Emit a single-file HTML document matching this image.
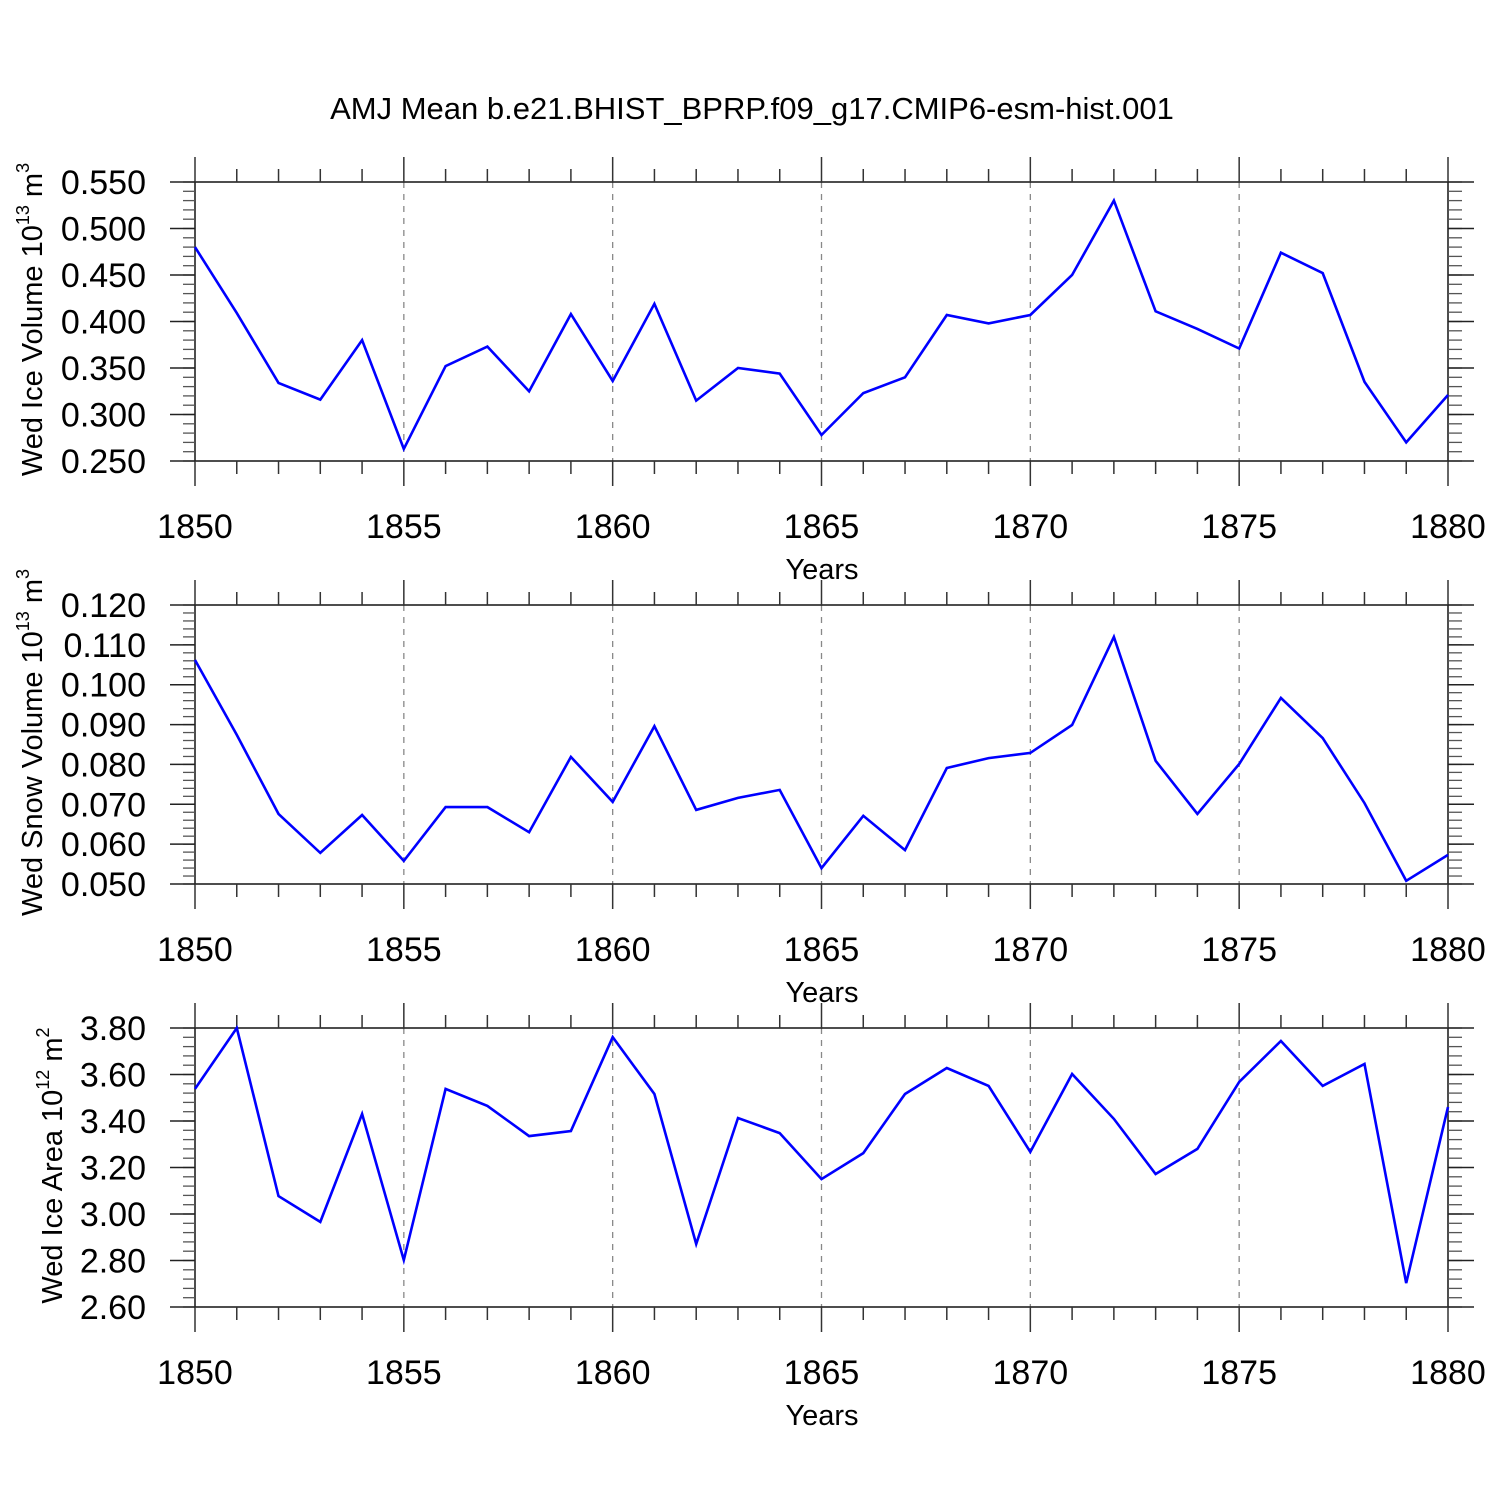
<!DOCTYPE html>
<html><head><meta charset="utf-8"><style>
html,body{margin:0;padding:0;background:#fff;}
svg{display:block;font-family:"Liberation Sans",Arial,sans-serif;}
</style></head><body>
<svg id="chart" width="1500" height="1500" viewBox="0 0 1500 1500" xmlns="http://www.w3.org/2000/svg">
<text x="752" y="119" font-size="31" text-anchor="middle">AMJ Mean b.e21.BHIST_BPRP.f09_g17.CMIP6-esm-hist.001</text>
</svg>
<script>
const years = [];
for (let y = 1850; y <= 1880; y++) years.push(y);
const xTicks = [1850, 1855, 1860, 1865, 1870, 1875, 1880];
const iceVolume = [0.480,0.409,0.334,0.316,0.380,0.263,0.352,0.373,0.325,0.408,0.336,0.419,0.315,0.350,0.344,0.278,0.323,0.340,0.407,0.398,0.407,0.450,0.530,0.411,0.392,0.371,0.474,0.452,0.335,0.270,0.321];
const snowVolume = [0.1062,0.0874,0.0676,0.0578,0.0673,0.0558,0.0693,0.0693,0.0630,0.0819,0.0706,0.0896,0.0686,0.0716,0.0736,0.0540,0.0671,0.0585,0.0791,0.0816,0.0829,0.0899,0.1120,0.0809,0.0676,0.0801,0.0967,0.0866,0.0703,0.0508,0.0573];
const iceArea = [3.538,3.80,3.077,2.966,3.430,2.802,3.538,3.465,3.335,3.357,3.761,3.516,2.871,3.413,3.348,3.150,3.262,3.516,3.628,3.551,3.267,3.602,3.409,3.172,3.280,3.568,3.744,3.551,3.645,2.703,3.460];
const iceVolTicks = ["0.550","0.500","0.450","0.400","0.350","0.300","0.250"];
const snowVolTicks = ["0.120","0.110","0.100","0.090","0.080","0.070","0.060","0.050"];
const iceAreaTicks = ["3.80","3.60","3.40","3.20","3.00","2.80","2.60"];

const NS = "http://www.w3.org/2000/svg";
const svg = document.getElementById("chart");
const X0 = 195, X1 = 1448;
function xs(v){ return X0 + (v - 1850) / 30 * (X1 - X0); }
function el(tag, attrs, parent){
  const e = document.createElementNS(NS, tag);
  for (const k in attrs) e.setAttribute(k, attrs[k]);
  (parent || svg).appendChild(e);
  return e;
}

const panels = [
  {name:"ice-volume", top:182, data:iceVolume, ticks:iceVolTicks, vmin:0.25, vmax:0.55, minorStep:0.01, title:["Wed Ice Volume 10","13"," m","3"], tx:32},
  {name:"snow-volume", top:605, data:snowVolume, ticks:snowVolTicks, vmin:0.05, vmax:0.12, minorStep:0.002, title:["Wed Snow Volume 10","13"," m","3"], tx:32},
  {name:"ice-area", top:1028, data:iceArea, ticks:iceAreaTicks, vmin:2.6, vmax:3.8, minorStep:0.04, title:["Wed Ice Area 10","12"," m","2"], tx:52}
];
const H = 279;

panels.forEach(p => {
  const g = el("g", {});
  
  
  const top = p.top, bot = top + H;
  function ys(v){ return bot - (v - p.vmin) / (p.vmax - p.vmin) * H; }
  xTicks.slice(1, -1).forEach(t => {
    const l = el("line", {x1:xs(t), x2:xs(t), y1:top, y2:bot, stroke:"#888", "stroke-width":1.3, "stroke-dasharray":"6,6"}, g);
    
    
  });
  const fr = el("rect", {x:X0, y:top, width:X1-X0, height:H, fill:"none", stroke:"#222", "stroke-width":1.6}, g);
  
  
  years.forEach(yr => {
    const major = xTicks.includes(yr);
    const len = major ? 25 : 13;
    const x = xs(yr);
    el("line", {x1:x, x2:x, y1:top, y2:top-len, stroke:"#333", "stroke-width":1.5}, g);
    el("line", {x1:x, x2:x, y1:bot, y2:bot+len, stroke:"#333", "stroke-width":1.5}, g);
  });
  xTicks.forEach(t => {
    const tl = el("text", {x:xs(t), y:bot+77, "font-size":34, "text-anchor":"middle"}, g);
    tl.textContent = t;
    
    
  });
  const nMinor = Math.round((p.vmax - p.vmin) / p.minorStep);
  for (let i = 0; i <= nMinor; i++) {
    const y = ys(p.vmin + i * p.minorStep);
    el("line", {x1:X0, x2:X0-12, y1:y, y2:y, stroke:"#555", "stroke-width":1.3}, g);
    el("line", {x1:X1, x2:X1+14, y1:y, y2:y, stroke:"#555", "stroke-width":1.3}, g);
  }
  p.ticks.forEach(t => {
    const y = ys(parseFloat(t));
    el("line", {x1:X0, x2:X0-25, y1:y, y2:y, stroke:"#222", "stroke-width":1.5}, g);
    el("line", {x1:X1, x2:X1+26, y1:y, y2:y, stroke:"#222", "stroke-width":1.5}, g);
    const tl = el("text", {x:146, y:y+12, "font-size":34, "text-anchor":"end"}, g);
    tl.textContent = t;
    
    
  });
  const xt = el("text", {x:822, y:bot+118, "font-size":29, "text-anchor":"middle"}, g);
  xt.textContent = "Years";
  
  
  const cy = (top + bot) / 2 - 2;
  const yt = el("text", {x:0, y:0, "font-size":29, "text-anchor":"middle", transform:`translate(${p.tx+10},${cy}) rotate(-90)`}, g);
  
  
  const parts = p.title;
  const s1 = el("tspan", {}, yt); s1.textContent = parts[0];
  const s2 = el("tspan", {dy:-13, "font-size":18}, yt); s2.textContent = parts[1];
  const s3 = el("tspan", {dy:13}, yt); s3.textContent = parts[2];
  const s4 = el("tspan", {dy:-13, "font-size":18}, yt); s4.textContent = parts[3];
  const pts = p.data.map((v, i) => xs(years[i]).toFixed(1) + "," + ys(v).toFixed(1)).join(" ");
  const line = el("polyline", {points:pts, fill:"none", stroke:"#0000ff", "stroke-width":2.6, "stroke-linejoin":"miter"}, g);
  
  
});
</script>
</body></html>
